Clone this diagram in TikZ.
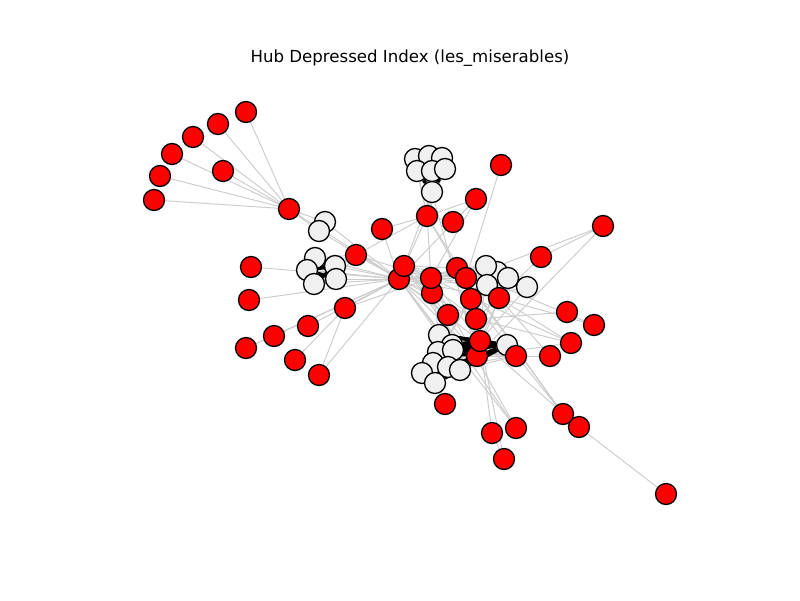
\documentclass[tikz,border=0pt]{standalone}
\usepackage{fontspec}
\setmainfont{DejaVu Sans}
\pgfdeclarelayer{edges}
\pgfsetlayers{edges,main}
\tikzset{
  hubnode/.style={circle,draw=black,line width=0.75pt,fill=red,minimum size=0.42cm,inner sep=0pt},
  restnode/.style={hubnode,fill=white!94!black},
  edgeline/.style={draw=gray!40,line width=0.55pt},
  thickline/.style={draw=black,line width=2pt},
}
\begin{document}
\begin{tikzpicture}[x=0.02cm,y=-0.02cm]
  \useasboundingbox (0,0) rectangle (800,600);
  \node[font=\fontsize{9.45}{11}\selectfont] (title) at (410,58) {Hub Depressed Index (les\_miserables)};

  % white nodes
  \foreach \n/\x/\y in {Listolier/415/159, Fameuil/429/156, Blacheville/442/158,
      Tholomyes/432/192, Favourite/417/171, Dahlia/432/171, Zephine/445/169,
      MlleBaptistine/325/222, MmeMagloire/319/231,
      Judge/315/258, Champmathieu/307/270, Brevet/335/266, Chenildieu/314/284, Cochepaille/336/279,
      Babet/497/272, Gueulemer/486/266, Montparnasse/508/278, Claquesous/487/285, Brujon/527/287,
      Enjolras/439/335, Combeferre/452/345, Courfeyrac/438/352, Bossuet/453/350, Mabeuf/433/363,
      Joly/448/367, Bahorel/460/370, Feuilly/422/373, Prouvaire/435/383, Grantaire/507/345}
    \node[restnode] (\n) at (\x,\y) {};

  % red nodes
  \foreach \n/\x/\y in {Napoleon/246/112, CountessDeLo/218/124, Geborand/193/137,
      Champtercier/172/154, Cravatte/160/176, Count/154/200, OldMan/223/171, Myriel/289/209,
      Labarre/251/267, MmeDeR/249/300, Isabeau/246/348, Gervais/274/336, Scaufflaire/308/326,
      Gribier/295/360, MotherInnocent/319/375, Fauchelevent/345/308, Bamatabois/356/255,
      Marguerite/382/229, Valjean/399/279, Cosette/404/266, Fantine/427/216, Perpetue/453/222,
      Simplice/476/199, Boulatruelle/501/165, Woman1/432/293, Javert/431/278,
      MmeThenardier/457/268, Thenardier/466/278, Eponine/471/299, Toussaint/448/315,
      MlleGillenormand/476/319, Gillenormand/499/298, Marius/477/356, Gavroche/480/341,
      MmeHucheloup/516/356, MotherPlutarch/445/404, MmePontmercy/541/257, Pontmercy/603/226,
      Magnon/594/325, MlleVaubois/567/312, LtGillenormand/571/343, BaronessT/550/356,
      MmeBurgon/579/427, Jondrette/666/494, Child1/492/433, Child2/504/459, Woman2/516/428,
      Anzelma/563/414}
    \node[hubnode] (\n) at (\x,\y) {};

  \begin{pgfonlayer}{edges}
  \foreach \a/\b in {Napoleon/Myriel, MlleBaptistine/Myriel, MmeMagloire/Myriel, MmeMagloire/MlleBaptistine,
      CountessDeLo/Myriel, Geborand/Myriel, Champtercier/Myriel, Cravatte/Myriel, Count/Myriel, OldMan/Myriel,
      Valjean/Labarre, Valjean/MmeMagloire, Valjean/MlleBaptistine, Valjean/Myriel, Marguerite/Valjean,
      MmeDeR/Valjean, Isabeau/Valjean, Gervais/Valjean,
      Listolier/Tholomyes, Fameuil/Tholomyes, Fameuil/Listolier, Blacheville/Tholomyes, Blacheville/Listolier,
      Blacheville/Fameuil, Favourite/Tholomyes, Favourite/Listolier, Favourite/Fameuil, Favourite/Blacheville,
      Dahlia/Listolier, Dahlia/Fameuil, Dahlia/Blacheville, Dahlia/Favourite, Dahlia/Tholomyes,
      Zephine/Tholomyes, Zephine/Listolier, Zephine/Fameuil, Zephine/Blacheville, Zephine/Favourite, Zephine/Dahlia,
      Fantine/Tholomyes, Fantine/Listolier, Fantine/Fameuil, Fantine/Blacheville, Fantine/Favourite,
      Fantine/Dahlia, Fantine/Zephine, Fantine/Marguerite, Fantine/Valjean,
      MmeThenardier/Fantine, MmeThenardier/Thenardier, Thenardier/Fantine, Thenardier/Valjean,
      Cosette/MmeThenardier, Cosette/Valjean, Cosette/Tholomyes, Cosette/Thenardier,
      Javert/Valjean, Javert/Fantine, Javert/Thenardier, Javert/MmeThenardier, Javert/Cosette,
      Fauchelevent/Valjean, Fauchelevent/Javert, Bamatabois/Fantine, Bamatabois/Javert, Bamatabois/Valjean,
      Perpetue/Fantine, Simplice/Perpetue, Simplice/Valjean, Simplice/Fantine, Simplice/Javert,
      Scaufflaire/Valjean, Woman1/Valjean, Woman1/Javert,
      Judge/Valjean, Judge/Bamatabois, Champmathieu/Valjean, Champmathieu/Bamatabois, Brevet/Valjean,
      Brevet/Bamatabois, Chenildieu/Valjean, Chenildieu/Bamatabois, Cochepaille/Valjean, Cochepaille/Bamatabois,
      Pontmercy/Thenardier, Boulatruelle/Thenardier, Eponine/MmeThenardier, Eponine/Thenardier,
      Anzelma/Eponine, Anzelma/Thenardier, Anzelma/MmeThenardier, Woman2/Valjean, Woman2/Cosette, Woman2/Javert,
      MotherInnocent/Fauchelevent, MotherInnocent/Valjean, Gribier/Fauchelevent, MmeBurgon/Jondrette,
      Gavroche/MmeBurgon, Gavroche/Thenardier, Gavroche/Javert, Gavroche/Valjean,
      Gillenormand/Cosette, Gillenormand/Valjean, Magnon/Gillenormand, Magnon/MmeThenardier,
      MlleGillenormand/Gillenormand, MlleGillenormand/Cosette, MlleGillenormand/Valjean,
      MmePontmercy/MlleGillenormand, MmePontmercy/Pontmercy, MlleVaubois/MlleGillenormand,
      LtGillenormand/MlleGillenormand, LtGillenormand/Gillenormand, LtGillenormand/Cosette,
      Marius/MlleGillenormand, Marius/Gillenormand, Marius/Pontmercy, Marius/LtGillenormand, Marius/Cosette,
      Marius/Valjean, Marius/Tholomyes, Marius/Thenardier, Marius/Eponine,
      BaronessT/Gillenormand, BaronessT/Marius, Mabeuf/Marius, Mabeuf/Eponine, Mabeuf/Gavroche,
      Enjolras/Javert, Enjolras/Mabeuf, Enjolras/Valjean, Combeferre/Mabeuf, Prouvaire/Gavroche,
      Feuilly/Gavroche, Feuilly/Mabeuf, Feuilly/Marius, Courfeyrac/Mabeuf, Courfeyrac/Eponine,
      Bahorel/Mabeuf, Bahorel/Marius, Bossuet/Mabeuf, Bossuet/Valjean, Joly/Gavroche, Joly/Mabeuf, Joly/Marius,
      MotherPlutarch/Mabeuf,
      Gueulemer/Thenardier, Gueulemer/Valjean, Gueulemer/MmeThenardier, Gueulemer/Javert, Gueulemer/Gavroche,
      Gueulemer/Eponine, Babet/Thenardier, Babet/Gueulemer, Babet/Valjean, Babet/MmeThenardier, Babet/Javert,
      Babet/Gavroche, Babet/Eponine, Claquesous/Thenardier, Claquesous/Babet, Claquesous/Gueulemer,
      Claquesous/Valjean, Claquesous/MmeThenardier, Claquesous/Javert, Claquesous/Eponine, Claquesous/Enjolras,
      Montparnasse/Javert, Montparnasse/Babet, Montparnasse/Gueulemer, Montparnasse/Claquesous,
      Montparnasse/Valjean, Montparnasse/Gavroche, Montparnasse/Eponine, Montparnasse/Thenardier,
      Toussaint/Cosette, Toussaint/Javert, Toussaint/Valjean, Child1/Gavroche, Child2/Gavroche, Child2/Child1,
      Brujon/Babet, Brujon/Gueulemer, Brujon/Thenardier, Brujon/Gavroche, Brujon/Eponine, Brujon/Claquesous,
      Brujon/Montparnasse, MmeHucheloup/Bossuet, MmeHucheloup/Joly, MmeHucheloup/Grantaire,
      MmeHucheloup/Bahorel, MmeHucheloup/Courfeyrac, MmeHucheloup/Gavroche, MmeHucheloup/Enjolras}
    \draw[edgeline] (\a) -- (\b);

  % heavy links
  \foreach \a/\b in {Dahlia/Tholomyes, Favourite/Tholomyes, Zephine/Tholomyes,
      Champmathieu/Judge, Brevet/Judge, Brevet/Champmathieu, Chenildieu/Judge, Chenildieu/Champmathieu,
      Chenildieu/Brevet, Cochepaille/Judge, Cochepaille/Champmathieu, Cochepaille/Brevet, Cochepaille/Chenildieu,
      Enjolras/Marius, Enjolras/Gavroche, Combeferre/Enjolras, Combeferre/Marius, Combeferre/Gavroche,
      Prouvaire/Enjolras, Prouvaire/Combeferre, Feuilly/Enjolras, Feuilly/Prouvaire, Feuilly/Combeferre,
      Courfeyrac/Marius, Courfeyrac/Enjolras, Courfeyrac/Combeferre, Courfeyrac/Gavroche, Courfeyrac/Feuilly,
      Courfeyrac/Prouvaire, Bahorel/Combeferre, Bahorel/Gavroche, Bahorel/Courfeyrac, Bahorel/Enjolras,
      Bahorel/Feuilly, Bahorel/Prouvaire, Bossuet/Marius, Bossuet/Courfeyrac, Bossuet/Gavroche, Bossuet/Bahorel,
      Bossuet/Enjolras, Bossuet/Feuilly, Bossuet/Prouvaire, Bossuet/Combeferre, Joly/Bahorel, Joly/Bossuet,
      Joly/Courfeyrac, Joly/Enjolras, Joly/Feuilly, Joly/Prouvaire, Joly/Combeferre,
      Grantaire/Bossuet, Grantaire/Enjolras, Grantaire/Combeferre, Grantaire/Courfeyrac, Grantaire/Joly,
      Grantaire/Gavroche, Grantaire/Bahorel, Marius/Gavroche}
    \draw[thickline] (\a) -- (\b);
  \end{pgfonlayer}
\end{tikzpicture}
\end{document}
